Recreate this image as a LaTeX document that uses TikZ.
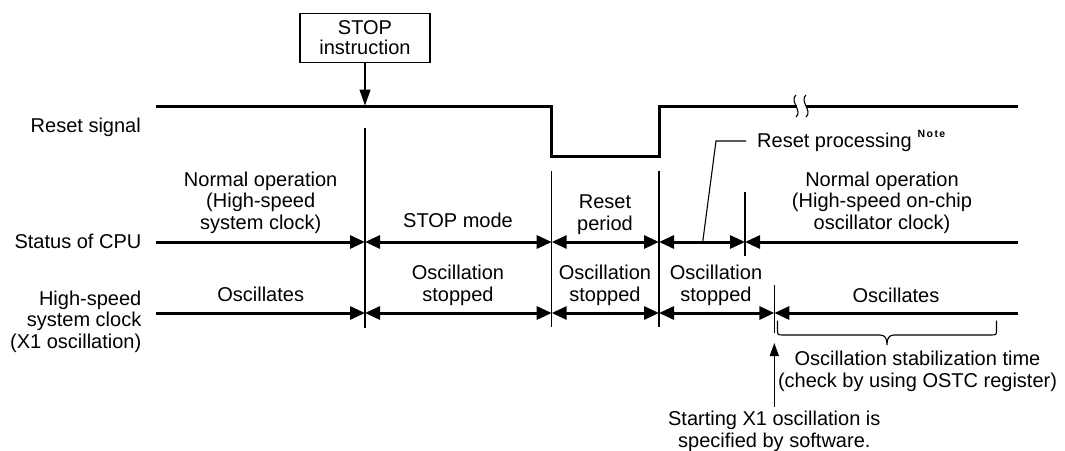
\documentclass[tikz,border=0pt]{standalone}
\usepackage{fontspec}
\setmainfont{Liberation Sans}
\usetikzlibrary{arrows.meta}
\begin{document}
\begin{tikzpicture}[x=1pt,y=-1pt,
  txt/.style={font=\fontsize{20}{21.4}\selectfont, inner sep=0pt, align=center, anchor=base},
  rtxt/.style={font=\fontsize{20}{21.4}\selectfont, inner sep=0pt, align=right, anchor=base east},
  sigline/.style={line width=3pt, line join=miter},
  bnd/.style={line width=1.2pt},
  dur/.style={line width=3pt, >={Triangle[length=15pt,width=13pt]}},
  leader/.style={line width=1.1pt},
  boxstyle/.style={draw, line width=1.3pt, minimum width=130pt, minimum height=49.4pt, inner sep=0pt,
     align=center, font=\fontsize{20}{20}\selectfont}
]
\useasboundingbox (0,0) rectangle (1065,450);
% key coordinates
\coordinate (rA) at (156,106);
\coordinate (rF1) at (551.7,106);
\coordinate (rF2) at (551.7,156);
\coordinate (rR1) at (659,156);
\coordinate (rR2) at (659,106);
\coordinate (rB1) at (797,106);
\coordinate (rB2) at (806,106);
\coordinate (rE) at (1018,106);
% status line points
\coordinate (s0) at (156,242);
\coordinate (s1) at (365,242);
\coordinate (s2) at (551.7,242);
\coordinate (s3) at (659,242);
\coordinate (s4) at (745,242);
\coordinate (s5) at (1018,242);
% clock line points
\coordinate (c0) at (156,313);
\coordinate (c1) at (365,313);
\coordinate (c2) at (551.7,313);
\coordinate (c3) at (659,313);
\coordinate (c4) at (774.3,313);
\coordinate (c5) at (1018,313);

% STOP instruction box
\node[boxstyle] (stop) at (365,38) {STOP\\instruction};
\draw[line width=1.2pt, -{Triangle[length=16pt,width=11pt]}] (stop.south) -- (365,105.5) coordinate (stoptip);

% reset signal
\draw[sigline] (rA) -- (rF1) -- (rF2) -- (rR1) -- (rR2) -- (rB1);
\draw[sigline] (rB2) -- (rE);
\draw[leader] (796,95) .. controls (789,101) and (803,111) .. (796,117);
\draw[leader] (806,95) .. controls (799,101) and (813,111) .. (806,117);

% boundary lines
\draw[bnd] (365,128) coordinate (v1t) -- (365,328) coordinate (v1b);
\draw[bnd] (551.7,171) coordinate (v2t) -- (551.7,327) coordinate (v2b);
\draw[bnd] (659,171) coordinate (v3t) -- (659,327) coordinate (v3b);
\draw[bnd] (745,192) coordinate (v4t) -- (745,256) coordinate (v4b);
\draw[bnd] (774.3,285) coordinate (v5t) -- (774.3,333) coordinate (v5b);

% status of CPU
\draw[dur,->] (s0) -- (s1);
\draw[dur,<->] (s1) -- (s2);
\draw[dur,<->] (s2) -- (s3);
\draw[dur,<->] (s3) -- (s4);
\draw[dur,<-] (s4) -- (s5);

% clock
\draw[dur,->] (c0) -- (c1);
\draw[dur,<->] (c1) -- (c2);
\draw[dur,<->] (c2) -- (c3);
\draw[dur,<->] (c3) -- (c4);
\draw[dur,<-] (c4) -- (c5);

% left labels (base = last line)
\node[rtxt] (lreset) at (141,132.7) {Reset signal};
\node[rtxt] (lcpu) at (141.5,248) {Status of CPU};
\node[rtxt] (lclk) at (141.5,348) {High-speed\\system clock\\(X1 oscillation)};

% CPU status labels
\node[txt] (n1) at (260.7,229) {Normal operation\\(High-speed\\system clock)};
\node[txt] (n2) at (458,227) {STOP mode};
\node[txt] (n3) at (605,230) {Reset\\period};
\node[txt] (n4) at (882,229) {Normal operation\\(High-speed on-chip\\oscillator clock)};

% clock labels
\node[txt] (k1) at (260.7,301.7) {Oscillates};
\node[txt] (k2) at (458,301) {Oscillation\\stopped};
\node[txt] (k3) at (605,301) {Oscillation\\stopped};
\node[txt] (k4) at (716,301) {Oscillation\\stopped};
\node[txt] (k5) at (896,302) {Oscillates};

% reset processing
\node[txt, anchor=base west] (rp) at (757,147) {Reset processing\hspace{6pt}\raisebox{10pt}{\fontsize{10.5}{10.5}\selectfont\bfseries N\kern1.4pt o\kern1.4pt t\kern1.4pt e}};
\coordinate (lp1) at (746,141);
\coordinate (lp2) at (716,141);
\coordinate (lp3) at (702.7,242);
\draw[leader] (lp1) -- (lp2) -- (lp3);

% stabilization brace
\coordinate (b1) at (777.5,320.5);
\coordinate (b2) at (996.5,320.5);
\coordinate (btip) at (887,345);
\draw[leader] (b1) -- (777.5,329) .. controls (777.5,335) .. (783.5,335) -- (880,335)
   .. controls (885.5,335) and (887,339) .. (btip)
   .. controls (887,339) and (888.5,335) .. (894,335) -- (990.5,335)
   .. controls (996.5,335) .. (996.5,329) -- (b2);
\node[txt] (stab) at (917.5,387) {Oscillation stabilization time\\(check by using OSTC register)};

% start arrow
\node[txt] (start) at (774.3,447) {Starting X1 oscillation is\\specified by software.};
\draw[line width=1.2pt, -{Triangle[length=13pt,width=9pt]}] (774.3,407) -- (774.3,343);
\end{tikzpicture}
\end{document}
